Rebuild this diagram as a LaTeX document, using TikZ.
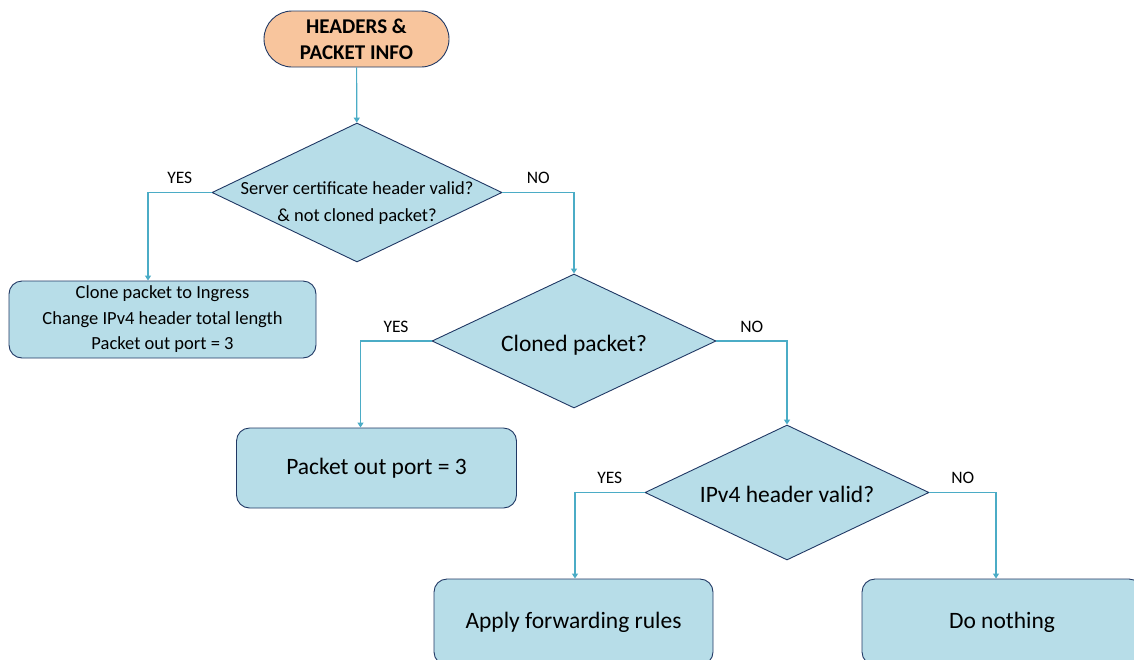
\documentclass[tikz,border=0pt]{standalone}
\usepackage{fontspec}
\setmainfont{Carlito}
\usetikzlibrary{shapes.geometric,arrows.meta}
\definecolor{boxfill}{HTML}{B7DDE8}
\definecolor{boxline}{HTML}{203864}
\definecolor{startfill}{HTML}{F8C59D}
\definecolor{flow}{HTML}{4BACC6}

\begin{document}
\begin{tikzpicture}[x=1pt,y=-1pt,
  startbox/.style={draw=boxline, fill=startfill, line width=0.9pt, rounded corners=28pt,
    minimum width=185pt, minimum height=56pt, inner sep=0pt, align=center,
    font=\fontsize{21}{26}\selectfont\bfseries},
  decision/.style={draw=boxline, fill=boxfill, line width=0.9pt, diamond, inner sep=0pt},
  question/.style={inner sep=0pt, align=center},
  action/.style={draw=boxline, fill=boxfill, line width=0.9pt, rounded corners=13pt,
    inner sep=0pt, align=center},
  small/.style={font=\fontsize{18.5}{25.5}\selectfont},
  large/.style={font=\fontsize{23.5}{28}\selectfont},
  flowline/.style={draw=flow, line width=1.2pt, -{Triangle[width=6pt,length=5pt]}},
  answer/.style={above=8pt, inner sep=0pt, font=\fontsize{17.5}{20}\selectfont},
]
\useasboundingbox (0,0) rectangle (1134,659);
\clip (0,0) rectangle (1134,659);

% start
\node[startbox] (start) at (356.5,39) {HEADERS \&\\PACKET INFO};

% decisions
\node[decision, minimum width=290pt, minimum height=139pt] (d1) at (357,192.5) {};
\node[question, font=\fontsize{18.5}{27}\selectfont] (q1) at (357,203) {Server certificate header valid?\\\& not cloned packet?};

\node[decision, minimum width=284pt, minimum height=134pt] (d2) at (574,341) {};
\node[question, large] (q2) at (574,345) {Cloned packet?};

\node[decision, minimum width=284pt, minimum height=135pt] (d3) at (787,492.5) {};
\node[question, large] (q3) at (787,494) {IPv4 header valid?};

% actions
\node[action, small, minimum width=307pt, minimum height=77pt] (b1) at (162.5,319.5)
  {Clone packet to Ingress\\Change IPv4 header total length\\Packet out port = 3};
\node[action, large, minimum width=280pt, minimum height=80pt] (b2) at (376.5,468) {Packet out port = 3};
\node[action, large, minimum width=279pt, minimum height=86pt] (b3) at (573.5,622) {Apply forwarding rules};
\node[action, large, minimum width=280pt, minimum height=86pt] (b4) at (1002,622) {Do nothing};

% connectors
\draw[flowline] (start) -- (d1);
\draw[flowline] (d1.west) -| node[answer, pos=0.25] {YES} ([xshift=-14.5pt]b1.north);
\draw[flowline] (d1.east) -| node[answer, pos=0.25] {NO} (d2.north);
\draw[flowline] (d2.west) -| node[answer, pos=0.25] {YES} ([xshift=-16pt]b2.north);
\draw[flowline] (d2.east) -| node[answer, pos=0.25] {NO} (d3.north);
\draw[flowline] (d3.west) -| node[answer, pos=0.25] {YES} ([xshift=1.5pt]b3.north);
\draw[flowline] (d3.east) -| node[answer, pos=0.25] {NO} ([xshift=-6pt]b4.north);
\end{tikzpicture}
\end{document}
